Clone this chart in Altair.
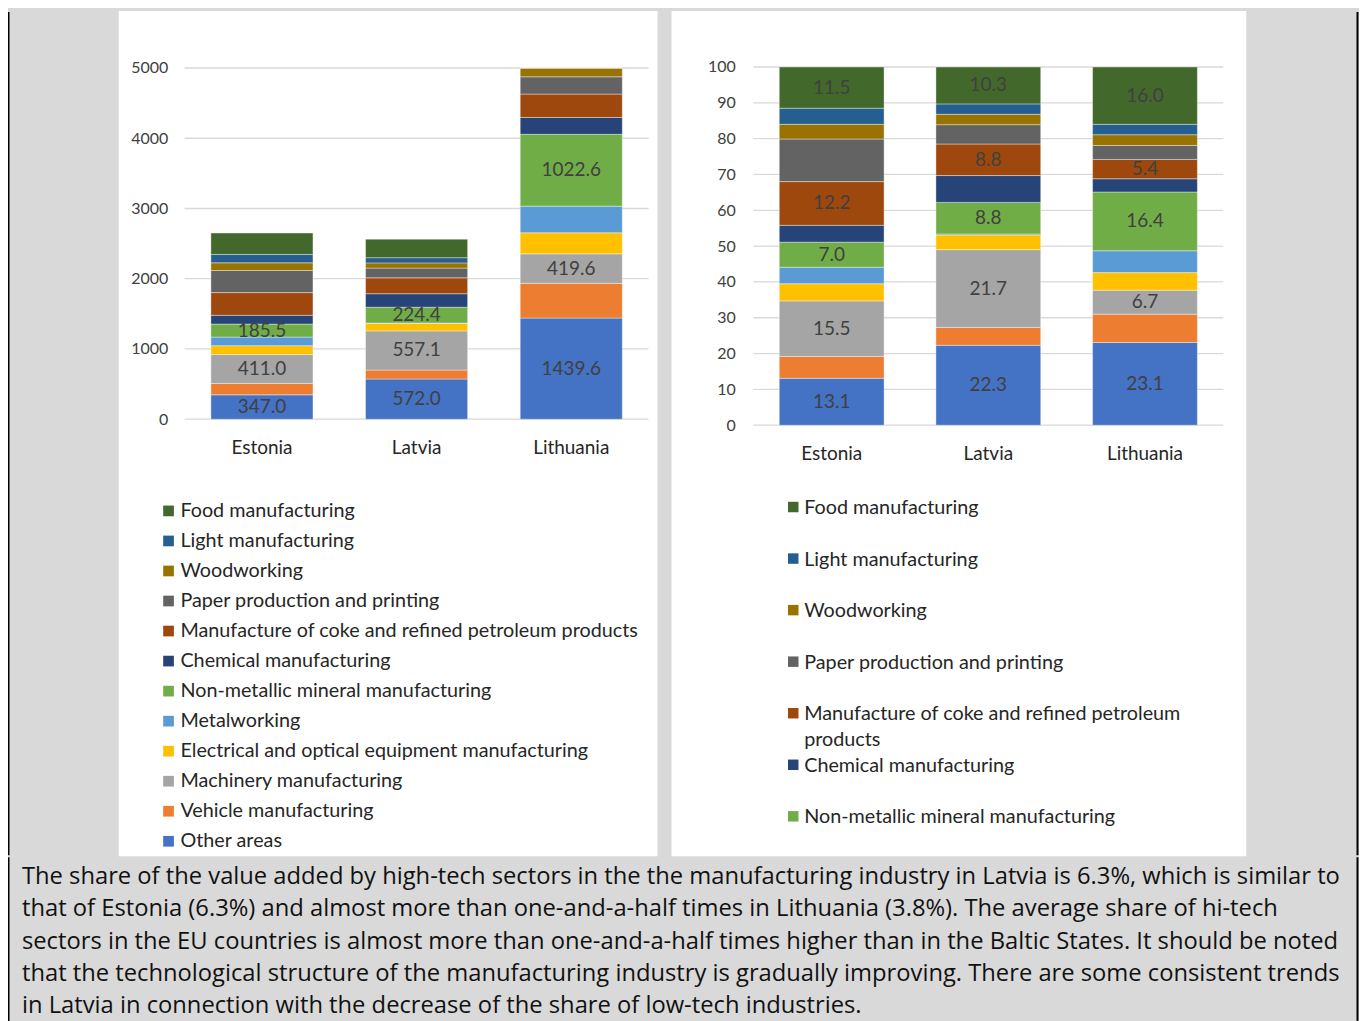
import altair as alt
import pandas as pd

# ---------------- data ----------------
COUNTRIES = ["Estonia", "Latvia", "Lithuania"]

# stacking order, bottom -> top
SERIES = [
    "Other areas",
    "Vehicle manufacturing",
    "Machinery manufacturing",
    "Electrical and optical equipment manufacturing",
    "Metalworking",
    "Non-metallic mineral manufacturing",
    "Chemical manufacturing",
    "Manufacture of coke and refined petroleum products",
    "Paper production and printing",
    "Woodworking",
    "Light manufacturing",
    "Food manufacturing",
]
COLORS = ["#4472C4", "#ED7D31", "#A5A5A5", "#FFC000", "#5B9BD5", "#70AD47",
          "#264478", "#9E480E", "#636363", "#997300", "#255E91", "#43682B"]

# value added (left chart)
ESTONIA_ABS = [347.0, 162, 411.0, 127, 122, 185.5, 125, 323, 315, 109, 119, 305]
LATVIA_ABS = [572.0, 128, 557.1, 105, 8, 224.4, 192, 226, 139, 74, 74, 264]
LITHUANIA_ABS = [1439.6, 495, 419.6, 300, 379, 1022.6, 240, 333, 246, 187, 181, 997]

# shares, % (right chart)
ESTONIA_PCT = [13.1, 6.1, 15.5, 4.8, 4.6, 7.0, 4.7, 12.2, 11.9, 4.1, 4.5, 11.5]
LATVIA_PCT = [22.3, 5.0, 21.7, 4.1, 0.3, 8.8, 7.5, 8.8, 5.4, 2.9, 2.9, 10.3]
LITHUANIA_PCT = [23.1, 7.9, 6.7, 4.9, 6.1, 16.4, 3.7, 5.4, 3.9, 3.0, 2.9, 16.0]

LABELED_LEFT = ["Other areas", "Machinery manufacturing", "Non-metallic mineral manufacturing"]
LABELED_RIGHT = LABELED_LEFT + ["Manufacture of coke and refined petroleum products",
                                "Food manufacturing"]

LEFT_TICKS = [0, 1000, 2000, 3000, 4000, 5000]
RIGHT_TICKS = [0, 10, 20, 30, 40, 50, 60, 70, 80, 90, 100]

RIGHT_LEGEND = ["Food manufacturing", "Light manufacturing", "Woodworking",
                "Paper production and printing",
                "Manufacture of coke and refined petroleum products",
                "Chemical manufacturing", "Non-metallic mineral manufacturing"]
RIGHT_LEGEND_TEXT = ["Food manufacturing", "Light manufacturing", "Woodworking",
                     "Paper production and printing",
                     "Manufacture of coke and refined petroleum\nproducts",
                     "Chemical manufacturing", "Non-metallic mineral manufacturing"]

PARAGRAPH = [
    "The share of the value added by high-tech sectors in the the manufacturing industry  in Latvia is 6.3%, which is similar to",
    "that of Estonia (6.3%) and almost more than one-and-a-half times in Lithuania (3.8%). The average share of hi-tech",
    "sectors in the EU countries is almost more than one-and-a-half times higher than in the Baltic States. It should be noted",
    "that the technological structure of the manufacturing industry is gradually improving. There are  some consistent trends",
    "in Latvia in connection with the decrease of the share of low-tech industries.",
]

LEGEND_ORDER = SERIES[::-1]
LEGEND_COLORS = COLORS[::-1]

PANEL_H = 847
FONT = "Lato"


def make_df(values_by_country, labeled):
    rows = []
    for c, vals in zip(COUNTRIES, values_by_country):
        for i, (s, v) in enumerate(zip(SERIES, vals)):
            rows.append(dict(country=c, series=s, order=i, value=v, show=s in labeled))
    return pd.DataFrame(rows)


def panel(df, ticks, dmax, y_range, grid_x, x_range, pad_in, y_off, x_off, clamp, legend):
    ysc = alt.Scale(domain=[0, dmax], range=y_range, clamp=clamp, nice=False, zero=False)
    xsc = alt.Scale(domain=COUNTRIES, range=x_range, paddingInner=pad_in, paddingOuter=pad_in / 2)
    csc = alt.Scale(domain=LEGEND_ORDER, range=LEGEND_COLORS)

    base = alt.Chart(df).transform_stack(
        stack="value", groupby=["country"], as_=["y0", "y1"],
        sort=[alt.SortField("order", order="ascending")],
    ).transform_calculate(mid="(datum.y0 + datum.y1) / 2")

    grid = alt.Chart(pd.DataFrame({"v": ticks})).mark_rule(
        color="#D9D9D9", strokeWidth=1.3
    ).encode(
        y=alt.Y("v:Q", scale=ysc, axis=None),
        x=alt.value(grid_x[0]), x2=alt.value(grid_x[1]),
    )

    bars = base.mark_bar(stroke="white", strokeWidth=0.7, strokeOpacity=0.55).encode(
        x=alt.X("country:N", scale=xsc, title=None,
                axis=alt.Axis(orient="bottom", offset=x_off, labelAngle=0, domain=False,
                              ticks=False, tickSize=0, labelPadding=0, labelFontSize=19,
                              labelColor="#262626", labelBaseline="top", labelFont=FONT)),
        y=alt.Y("y0:Q", scale=ysc, title=None,
                axis=alt.Axis(values=ticks, format="d", grid=False, domain=False, ticks=False,
                              tickSize=0, labelPadding=0, offset=y_off, labelFontSize=16,
                              labelColor="#404040", labelFont=FONT)),
        y2="y1:Q",
        color=alt.Color("series:N", scale=csc, legend=legend),
    )

    labels = base.transform_filter("datum.show").mark_text(
        font=FONT, fontSize=19, color="#404040", baseline="middle"
    ).encode(
        x=alt.X("country:N", scale=xsc, axis=None),
        y=alt.Y("mid:Q", scale=ysc, axis=None),
        text=alt.Text("value:Q", format=".1f"),
    )
    return grid, bars, labels, csc


# ---------------- left panel ----------------
left_df = make_df([ESTONIA_ABS, LATVIA_ABS, LITHUANIA_ABS], LABELED_LEFT)
left_legend = alt.Legend(orient="none", legendX=40, legendY=491, title=None, direction="vertical",
                         symbolType="square", symbolSize=115, symbolStrokeWidth=0,
                         labelFontSize=19.8, labelFont=FONT, labelColor="#262626", labelOffset=2,
                         rowPadding=9.1, padding=0, labelLimit=485)
lg, lb, ll, _ = panel(left_df, LEFT_TICKS, 5000, [409, 57], [66, 531], [66, 531], 0.34,
                      -49, -419, True, left_legend)
left = alt.layer(lg, lb, ll).resolve_scale(x="independent", y="independent").properties(
    width=540, height=PANEL_H, view=alt.ViewBackground(fill="white", strokeWidth=0)
)

# ---------------- right panel ----------------
right_df = make_df([ESTONIA_PCT, LATVIA_PCT, LITHUANIA_PCT], LABELED_RIGHT)
rg, rb, rl, rcsc = panel(right_df, RIGHT_TICKS, 100, [415, 56], [82, 553], [82, 553], 0.331,
                         -64, -413, False, None)

leg_df = pd.DataFrame({"series": RIGHT_LEGEND, "text": RIGHT_LEGEND_TEXT})
lsc = alt.Scale(type="point", domain=RIGHT_LEGEND, range=[497, 807], padding=0)
leg_sym = alt.Chart(leg_df).mark_point(shape="square", filled=True, size=110, opacity=1,
                                       strokeWidth=0).encode(
    x=alt.value(122),
    y=alt.Y("series:N", scale=lsc, axis=None),
    color=alt.Color("series:N", scale=rcsc, legend=None),
)
leg_txt = alt.Chart(leg_df).mark_text(align="left", baseline="alphabetic", dy=7, lineBreak="\n",
                                      lineHeight=26, font=FONT, fontSize=19.8,
                                      color="#262626").encode(
    x=alt.value(133),
    y=alt.Y("series:N", scale=lsc, axis=None),
    text="text:N",
)
right = alt.layer(rg, rb, rl, leg_sym, leg_txt).resolve_scale(
    x="independent", y="independent"
).properties(
    width=576, height=PANEL_H, view=alt.ViewBackground(fill="white", strokeWidth=0)
)

# ---------------- spacers / borders ----------------
one = pd.DataFrame({"a": [0]})
sp1 = alt.Chart(one).mark_rule(color="black", strokeWidth=1.5).encode(
    x=alt.value(0.75), y=alt.value(1), y2=alt.value(PANEL_H - 1)
).properties(width=97, height=PANEL_H)
sp2 = alt.Chart(one).mark_rule(color="black", strokeWidth=2).encode(
    x=alt.value(97.5), y=alt.value(1), y2=alt.value(PANEL_H - 1)
).properties(width=99, height=PANEL_H)

# ---------------- paragraph ----------------
PARA_H = 166
para_df = pd.DataFrame({"i": list(range(len(PARAGRAPH))), "line": PARAGRAPH})
para_txt = alt.Chart(para_df).mark_text(align="left", baseline="alphabetic", font="Open Sans",
                                        fontSize=23.8, color="#111111").encode(
    x=alt.value(14),
    y=alt.Y("i:O", scale=alt.Scale(type="point", range=[28, 157], padding=0), axis=None),
    text="line:N",
)
para_l = alt.Chart(one).mark_rule(color="black", strokeWidth=1.5).encode(
    x=alt.value(0.75), y=alt.value(1), y2=alt.value(PARA_H - 1))
para_r = alt.Chart(one).mark_rule(color="black", strokeWidth=2).encode(
    x=alt.value(1352.5), y=alt.value(1), y2=alt.value(PARA_H - 1))
para = alt.layer(para_txt, para_l, para_r).properties(width=1354, height=PARA_H)

row = alt.hconcat(sp1, left, right, sp2, spacing=14).resolve_scale(color="independent")
chart = alt.vconcat(row, para, spacing=0).resolve_scale(color="independent").properties(
    padding={"left": 0, "top": 2, "right": 0, "bottom": 0}
).configure(background="#D9D9D9", font=FONT).configure_view(strokeWidth=0)

chart.save("out.html", embed_options={"renderer": "svg", "actions": False})
